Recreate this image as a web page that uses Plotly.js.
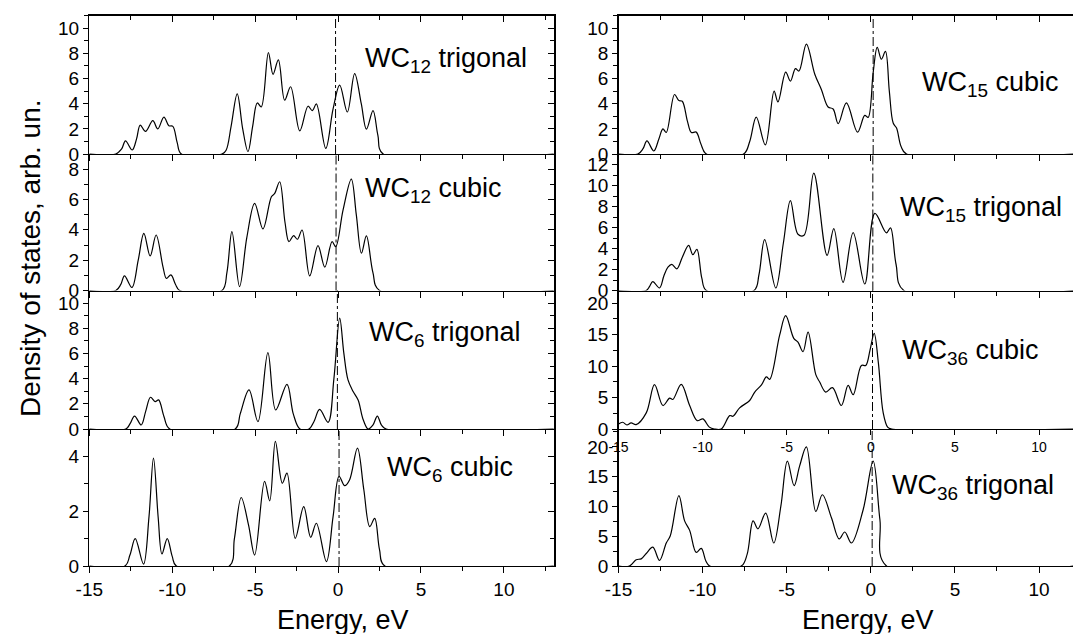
<!DOCTYPE html>
<html>
<head>
<meta charset="utf-8">
<script src="https://cdn.plot.ly/plotly-3.0.1.min.js"></script>
<style>html,body{margin:0;padding:0;background:#fff;}#chart{width:1073px;height:634px;}</style>
</head>
<body>
<div id="chart"></div>
<script>
// ---------- DATA ----------
// Left column, top to bottom
const E_WC12_trig = [-15,-13.4,-13.05,-12.82,-12.41,-12.15,-11.93,-11.61,-11.17,-10.87,-10.5,-10.2,-9.96,-9.7,-9.45,-7.0,-6.75,-6.45,-6.08,-5.75,-5.43,-5.15,-4.87,-4.63,-4.2,-3.92,-3.6,-3.22,-2.86,-2.31,-1.81,-1.55,-1.31,-0.74,-0.3,0.1,0.56,1.0,1.4,1.71,2.11,2.4,2.72,13];
const D_WC12_trig = [0,0,0.4,1.04,0.32,1.2,2.3,1.8,2.65,2.0,2.94,2.25,2.2,0.9,0,0,0.3,2.2,4.79,2.0,0.19,2.2,4.06,3.74,8.07,6.34,7.49,4.28,5.35,1.84,3.8,3.45,3.98,0.45,3.58,5.48,3.34,6.4,4.0,1.98,3.45,1.5,0,0];

const E_WC12_cub = [-15,-13.4,-13.1,-12.88,-12.43,-12.05,-11.71,-11.33,-10.97,-10.56,-10.35,-10.08,-9.8,-9.55,-7.0,-6.7,-6.4,-5.94,-5.5,-5.03,-4.53,-4.02,-3.82,-3.52,-3.2,-2.96,-2.68,-2.45,-2.17,-1.71,-1.21,-0.8,-0.36,-0.14,0.3,0.8,1.1,1.41,1.71,2.1,2.5,13];
const D_WC12_cub = [0,0,0.4,0.96,0.2,2.0,3.77,2.28,3.66,1.58,0.8,1.03,0.4,0,0,1.2,3.88,0.26,3.5,5.75,4.06,6.18,6.4,7.17,4.5,3.22,3.62,3.38,3.99,0.96,2.96,1.54,3.22,2.89,5.3,7.35,5.0,2.46,3.6,1.2,0,0];

const E_WC6_trig = [-15,-12.8,-12.55,-12.27,-11.87,-11.6,-11.31,-11.03,-10.82,-10.5,-10.15,-6.2,-5.9,-5.37,-4.83,-4.23,-3.76,-3.08,-2.7,-2.3,-1.75,-1.45,-1.11,-0.6,-0.25,0.1,0.35,0.6,0.9,1.21,1.5,1.81,2.1,2.37,2.62,2.9,13];
const D_WC6_trig = [0,0,0.4,1.03,0.32,1.4,2.52,2.18,2.31,1.0,0,0,1.2,3.1,0.58,6.07,1.51,3.55,1.2,0,0,0.6,1.56,0.53,4.0,8.8,6.0,3.9,3.0,2.3,0.8,0,0.3,1.03,0.3,0,0];

const E_WC6_cub = [-15,-12.85,-12.55,-12.23,-11.73,-11.4,-11.13,-10.85,-10.62,-10.3,-10.0,-9.75,-6.55,-6.25,-5.84,-5.4,-5.03,-4.43,-4.12,-3.78,-3.36,-3.08,-2.58,-2.07,-1.65,-1.31,-0.7,-0.3,0.06,0.4,0.7,1.17,1.55,1.91,2.21,2.5,2.82,13];
const D_WC6_cub = [0,0,0.4,1.0,0.07,1.8,3.94,1.8,0.44,1.0,0.35,0,0,1.0,2.5,1.5,0.4,3.09,2.38,4.55,3.02,3.39,1.01,2.17,1.05,1.56,0.16,1.8,3.27,2.93,3.15,4.3,2.8,1.44,1.74,0.6,0,0];

// Right column, top to bottom
const E_WC15_cub = [-15,-13.85,-13.55,-13.31,-12.9,-12.6,-12.36,-12.16,-11.67,-11.41,-11.21,-10.9,-10.67,-10.38,-10.1,-9.78,-7.56,-7.2,-6.81,-6.27,-5.75,-5.52,-5.06,-4.78,-4.48,-4.27,-3.83,-3.33,-2.94,-2.54,-2.24,-1.94,-1.45,-0.79,-0.36,-0.16,0.14,0.38,0.63,0.87,1.1,1.33,1.53,1.8,2.12,12.1];
const D_WC15_cub = [0,0,0.4,1.04,0.24,1.2,2.0,1.71,4.73,4.25,4.2,2.6,1.71,1.74,0.8,0,0,1.0,2.94,0.72,5.0,4.14,6.52,5.8,6.79,6.6,8.74,6.34,5.13,3.74,3.58,2.41,4.06,1.74,3.07,2.91,6.47,8.48,7.54,8.16,5.0,2.46,2.06,0.6,0,0];

const E_WC15_trig = [-15,-13.35,-13.15,-12.96,-12.56,-12.3,-12.06,-11.83,-11.53,-11.2,-10.83,-10.58,-10.34,-10.05,-9.78,-6.94,-6.65,-6.31,-5.65,-5.2,-4.78,-4.33,-3.97,-3.39,-2.6,-2.2,-1.65,-1.05,-0.36,0.24,0.93,1.17,1.5,1.96,12.1];
const D_WC15_trig = [0,0,0.4,0.85,0.24,1.4,2.22,2.48,2.06,3.2,4.3,3.41,3.92,1.2,0,0,1.5,4.85,0.24,4.5,8.56,5.36,5.26,11.18,3.34,5.9,0.78,5.52,0.62,7.34,5.49,5.97,2.5,0,0];

const E_WC36_cub = [-15,-14.75,-14.5,-14.25,-13.95,-13.35,-12.86,-12.36,-11.96,-11.77,-11.27,-10.77,-10.32,-9.98,-9.6,-9.3,-8.89,-8.39,-8.19,-7.8,-7.2,-6.9,-6.5,-6.21,-6.01,-5.42,-5.06,-4.58,-4.33,-4.03,-3.73,-3.27,-3.04,-2.68,-2.28,-1.75,-1.35,-1.05,-0.56,-0.3,-0.05,0.2,0.45,0.73,1.0,1.23,12.1];
const D_WC36_cub = [0.8,1.07,0.64,0.96,0.7,2.56,7.04,3.73,4.9,4.69,7.09,3.73,1.33,1.6,0.3,0,0,2.13,2.03,3.36,4.53,5.87,7.0,8.27,7.89,14.9,18.0,14.4,13.8,12.27,15.4,8.64,7.47,5.87,6.56,3.73,6.93,5.44,10.1,10.1,12.5,15.2,10.5,2.67,0.3,0,0];

const E_WC36_trig = [-15,-14.35,-13.95,-13.65,-13.35,-12.96,-12.56,-12.16,-11.92,-11.41,-11.07,-10.77,-10.38,-10.08,-9.8,-9.58,-7.7,-7.35,-7.0,-6.71,-6.25,-5.77,-5.35,-4.96,-4.56,-4.23,-3.83,-3.27,-2.88,-2.34,-1.88,-1.55,-1.15,-0.46,0.14,0.54,0.93,12.1];
const D_WC36_trig = [0,0,1.06,1.2,2.1,3.17,0.95,3.86,5.08,11.8,7.57,5.98,2.28,2.96,0.8,0,0,2.0,7.57,6.24,8.89,3.86,10.0,17.6,13.5,16.8,20.0,9.15,11.96,8.1,4.55,5.71,3.86,9.4,17.6,7.8,0,0];

const panelLabels = ['WC<sub>12</sub> trigonal','WC<sub>12</sub> cubic','WC<sub>6</sub> trigonal','WC<sub>6</sub> cubic',
                     'WC<sub>15</sub> cubic','WC<sub>15</sub> trigonal','WC<sub>36</sub> cubic','WC<sub>36</sub> trigonal'];
const fermiLevel = [-0.15,-0.12,-0.04,0.06, 0.14,0.12,0.1,0.08];
const yMax = [11,9,11,5, 11,13,22,23];
const yMajor = [2,2,2,2, 2,2,5,5];
const yMinor = [1,1,1,1, 1,1,2.5,2.5];
const xTickVals = [-15,-10,-5,0,5,10];
const xTickText = ['-15','-10','-5','0','5','10'];
const xTitle = 'Energy, eV';
const yTitle = 'Density of states, arb. un.';

// ---------- LAYOUT ----------
const W = 1073, H = 634;
const FONT = 'Liberation Sans, Arial, Helvetica, sans-serif';
const series = [[E_WC12_trig,D_WC12_trig],[E_WC12_cub,D_WC12_cub],[E_WC6_trig,D_WC6_trig],[E_WC6_cub,D_WC6_cub],
                [E_WC15_cub,D_WC15_cub],[E_WC15_trig,D_WC15_trig],[E_WC36_cub,D_WC36_cub],[E_WC36_trig,D_WC36_trig]];
const rowEdges = [15.7,154,290.5,429,566]; // px from top
const colDom = [[89.3/W, 554.3/W],[618.5/W, 1]];
const colRange = [[-15,13.04],[-15,12.02]];
const labelPos = [[363,60],[363,190],[367,334],[385,469],[920,84],[898,209],[900,352],[890,487]];

const traces = [];
const layout = {
  width: W, height: H, margin:{l:0,r:0,t:0,b:0},
  paper_bgcolor:'#fff', plot_bgcolor:'#fff', showlegend:false,
  font:{family:FONT, color:'#000', size:19},
  shapes:[], annotations:[]
};
const LW = 1.3;
function xAxisBase(col){
  return {domain:colDom[col], range:colRange[col], showgrid:false, zeroline:false,
    showline:true, linecolor:'#000', linewidth:LW, ticks:'outside', ticklen:6, tickwidth:1, tickcolor:'#000',
    tickmode:'array', tickvals:xTickVals, ticktext:xTickText,
    minor:{tick0:0, dtick:2.5, ticks:'outside', ticklen:4, tickwidth:1, tickcolor:'#000', showgrid:false},
    tickfont:{size:19, family:FONT}, fixedrange:true};
}
for(let i=0;i<8;i++){
  const col = i<4?0:1, row = i%4;
  const n = i+1, xs = n===1?'x':'x'+n, ys = n===1?'y':'y'+n;
  const xk = n===1?'xaxis':'xaxis'+n, yk = n===1?'yaxis':'yaxis'+n;
  const dom = [1-rowEdges[row+1]/H, 1-rowEdges[row]/H];
  traces.push({x:series[i][0], y:series[i][1], xaxis:xs, yaxis:ys, mode:'lines',
    line:{color:'#000', width:1.2, shape:'spline', smoothing:1}, hoverinfo:'skip'});
  const xa = xAxisBase(col); xa.anchor = ys;
  xa.showticklabels = (row===3) || (i===6);
  if(i===6){ xa.tickfont = {size:14, family:FONT}; xa.ticklen = 5; }
  layout[xk] = xa;
  layout[yk] = {domain:dom, range:[0,yMax[i]], anchor:xs, showgrid:false, zeroline:false,
    showline:true, linecolor:'#000', linewidth:LW, ticks:'outside', ticklen:5, tickwidth:1, tickcolor:'#000',
    tick0:0, dtick:yMajor[i], minor:{tick0:0, dtick:yMinor[i], ticks:'outside', ticklen:4, tickwidth:1, tickcolor:'#000', showgrid:false},
    tickfont:{size:19, family:FONT}, ticklabelstandoff:0, fixedrange:true};
  // Fermi level
  layout.shapes.push({type:'line', xref:xs, yref:ys+' domain', x0:fermiLevel[i], x1:fermiLevel[i], y0:0, y1:1,
    line:{color:'#000', width:1, dash:'dashdot'}});
  // panel label
  layout.annotations.push({text:panelLabels[i], xref:'paper', yref:'paper', x:labelPos[i][0]/W, y:1-labelPos[i][1]/H,
    xanchor:'left', yanchor:'middle', showarrow:false, font:{size:27, family:FONT, color:'#000'}});
}
// top edges with inward ticks
[[9,1,0],[10,5,1]].forEach(([k,base,col])=>{
  const xa = xAxisBase(col);
  xa.overlaying = base===1?'x':'x'+base; xa.anchor = base===1?'y':'y'+base; xa.side='top';
  xa.ticks='inside'; xa.minor.ticks='inside'; xa.showticklabels=false;
  layout['xaxis'+k] = xa;
  traces.push({x:[], y:[], xaxis:'x'+k, yaxis:base===1?'y':'y'+base, mode:'lines', hoverinfo:'skip'});
});
// right edges of left column with inward ticks
for(let r=0;r<4;r++){
  const k = 9+r, base = r+1;
  const ybase = base===1?'y':'y'+base, xbase = base===1?'x':'x'+base;
  layout['yaxis'+k] = {overlaying:ybase, anchor:xbase, side:'right', range:[0,yMax[r]], showgrid:false, zeroline:false,
    showline:true, linecolor:'#000', linewidth:LW, ticks:'inside', ticklen:6, tickwidth:1, tickcolor:'#000',
    tick0:0, dtick:yMajor[r], minor:{tick0:0, dtick:yMinor[r], ticks:'inside', ticklen:4, tickwidth:1, tickcolor:'#000', showgrid:false},
    showticklabels:false, fixedrange:true};
  traces.push({x:[], y:[], xaxis:xbase, yaxis:'y'+k, mode:'lines', hoverinfo:'skip'});
}
// axis titles
layout.annotations.push({text:xTitle, xref:'paper', yref:'paper', x:343/W, y:1-620/H, xanchor:'center', yanchor:'middle',
  showarrow:false, font:{size:27, family:FONT, color:'#000'}});
layout.annotations.push({text:xTitle, xref:'paper', yref:'paper', x:868/W, y:1-620/H, xanchor:'center', yanchor:'middle',
  showarrow:false, font:{size:27, family:FONT, color:'#000'}});
layout.annotations.push({text:yTitle, xref:'paper', yref:'paper', x:30/W, y:1-258/H, xanchor:'center', yanchor:'middle',
  textangle:-90, showarrow:false, font:{size:28, family:FONT, color:'#000'}});

Plotly.newPlot('chart', traces, layout, {staticPlot:true, displayModeBar:false});
</script>
</body>
</html>
